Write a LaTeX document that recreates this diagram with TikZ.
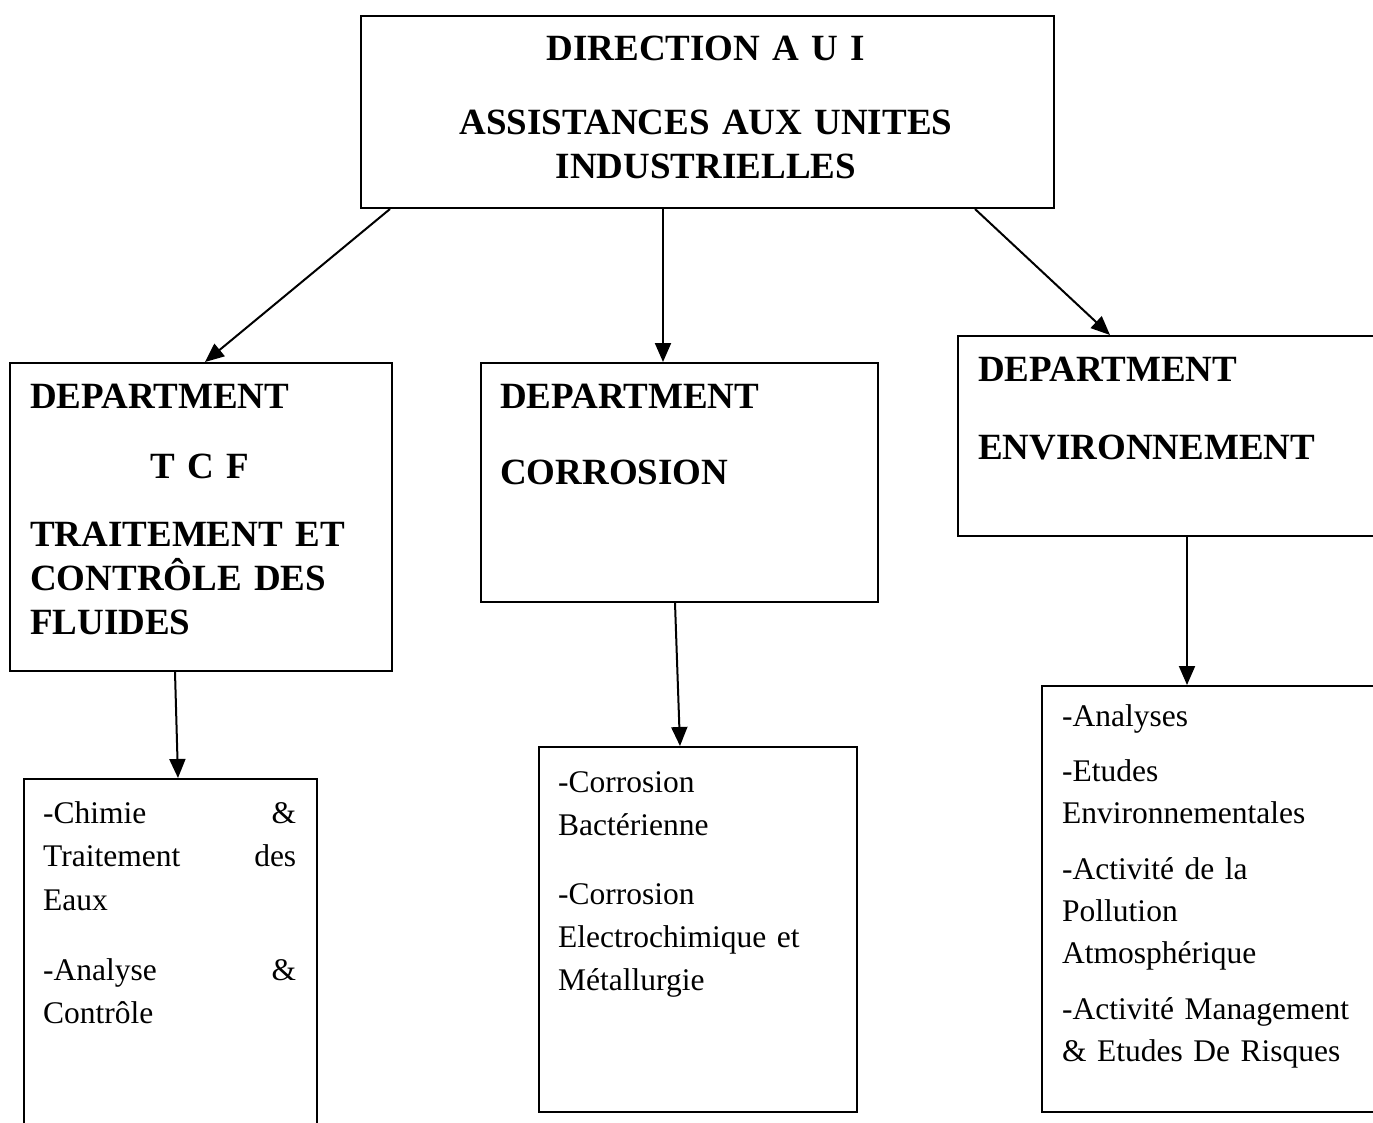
\documentclass[tikz,border=0pt]{standalone}
\usepackage{fontspec}
\setmainfont{Liberation Serif}
\usetikzlibrary{arrows.meta, positioning}
\newcommand{\headfont}{\fontsize{37}{44}\selectfont\bfseries}
\newcommand{\itemfont}{\fontsize{31.5}{43}\selectfont}
\tikzset{
  box/.style={draw, line width=2pt, inner sep=0pt, anchor=north west},
  head/.style={inner sep=0pt, anchor=base west, align=left, font=\headfont},
  item/.style={inner sep=0pt, anchor=base west, align=left, font=\itemfont},
  link/.style={-{Triangle[length=19pt,width=16pt]}, line width=2pt}
}
\begin{document}
\begin{tikzpicture}[x=1pt, y=-1pt]
\useasboundingbox (0,0) rectangle (1373,1122);
\clip (0,0) rectangle (1373,1122);
% boxes
\node[box, minimum width=693pt, minimum height=192pt] (aui) at (360,15) {};
\node[box, minimum width=382pt, minimum height=308pt] (tcf) at (9,362) {};
\node[box, minimum width=397pt, minimum height=239pt] (corr) at (480,362) {};
\node[box, minimum width=443pt, minimum height=200pt] (env) at (957,335) {};
\node[box, minimum width=293pt, minimum height=372pt] (tcfsub) at (23,778) {};
\node[box, minimum width=318pt, minimum height=365pt] (corrsub) at (538,746) {};
\node[box, minimum width=359pt, minimum height=426pt] (envsub) at (1041,685) {};
% texts
\node[head, anchor=base, align=center, text width=640pt] (auitxt) at (706,60)
  {DIRECTION A U I\\[30pt] ASSISTANCES AUX UNITES\\ INDUSTRIELLES};
\node[head, text width=340pt] (tcftxt) at (30,408)
  {DEPARTMENT\\[26pt] \makebox[340pt]{T C F}\\[24pt] TRAITEMENT ET\\ CONTRÔLE DES\\ FLUIDES};
\node[head, text width=360pt] (corrtxt) at (500,408) {DEPARTMENT\\[32pt] CORROSION};
\node[head, text width=390pt] (envtxt) at (978,381) {DEPARTMENT\\[34pt] ENVIRONNEMENT};
\node[item, text width=253pt, font=\fontsize{31.5}{43.5}\selectfont] (tcfitems) at (43,823)
  {-Chimie\hfill\&\\ Traitement\hfill des\\ Eaux\\[26.5pt] -Analyse\hfill\&\\ Contrôle};
\node[item, text width=290pt] (corritems) at (558,792)
  {-Corrosion\\ Bactérienne\\[26pt] -Corrosion\\ Electrochimique et\\ Métallurgie};
\node[item, text width=310pt, font=\fontsize{31.5}{42}\selectfont] (envitems) at (1062,726)
  {-Analyses\\[13pt] -Etudes\\ Environnementales\\[14pt] -Activité de la\\ Pollution\\ Atmosphérique\\[14pt] -Activité Management\\ \& Etudes De Risques};
% links
\draw[link] ([xshift=30pt]aui.south west) -- ([xshift=196pt]tcf.north west);
\draw[link] ([xshift=303pt]aui.south west) -- ([xshift=183pt]corr.north west);
\draw[link] ([xshift=615pt]aui.south west) -- ([xshift=153pt]env.north west);
\draw[link] ([xshift=166pt]tcf.south west) -- ([xshift=155pt]tcfsub.north west);
\draw[link] ([xshift=195pt]corr.south west) -- ([xshift=142pt]corrsub.north west);
\draw[link] ([xshift=230pt]env.south west) -- ([xshift=146pt]envsub.north west);
\end{tikzpicture}
\end{document}
